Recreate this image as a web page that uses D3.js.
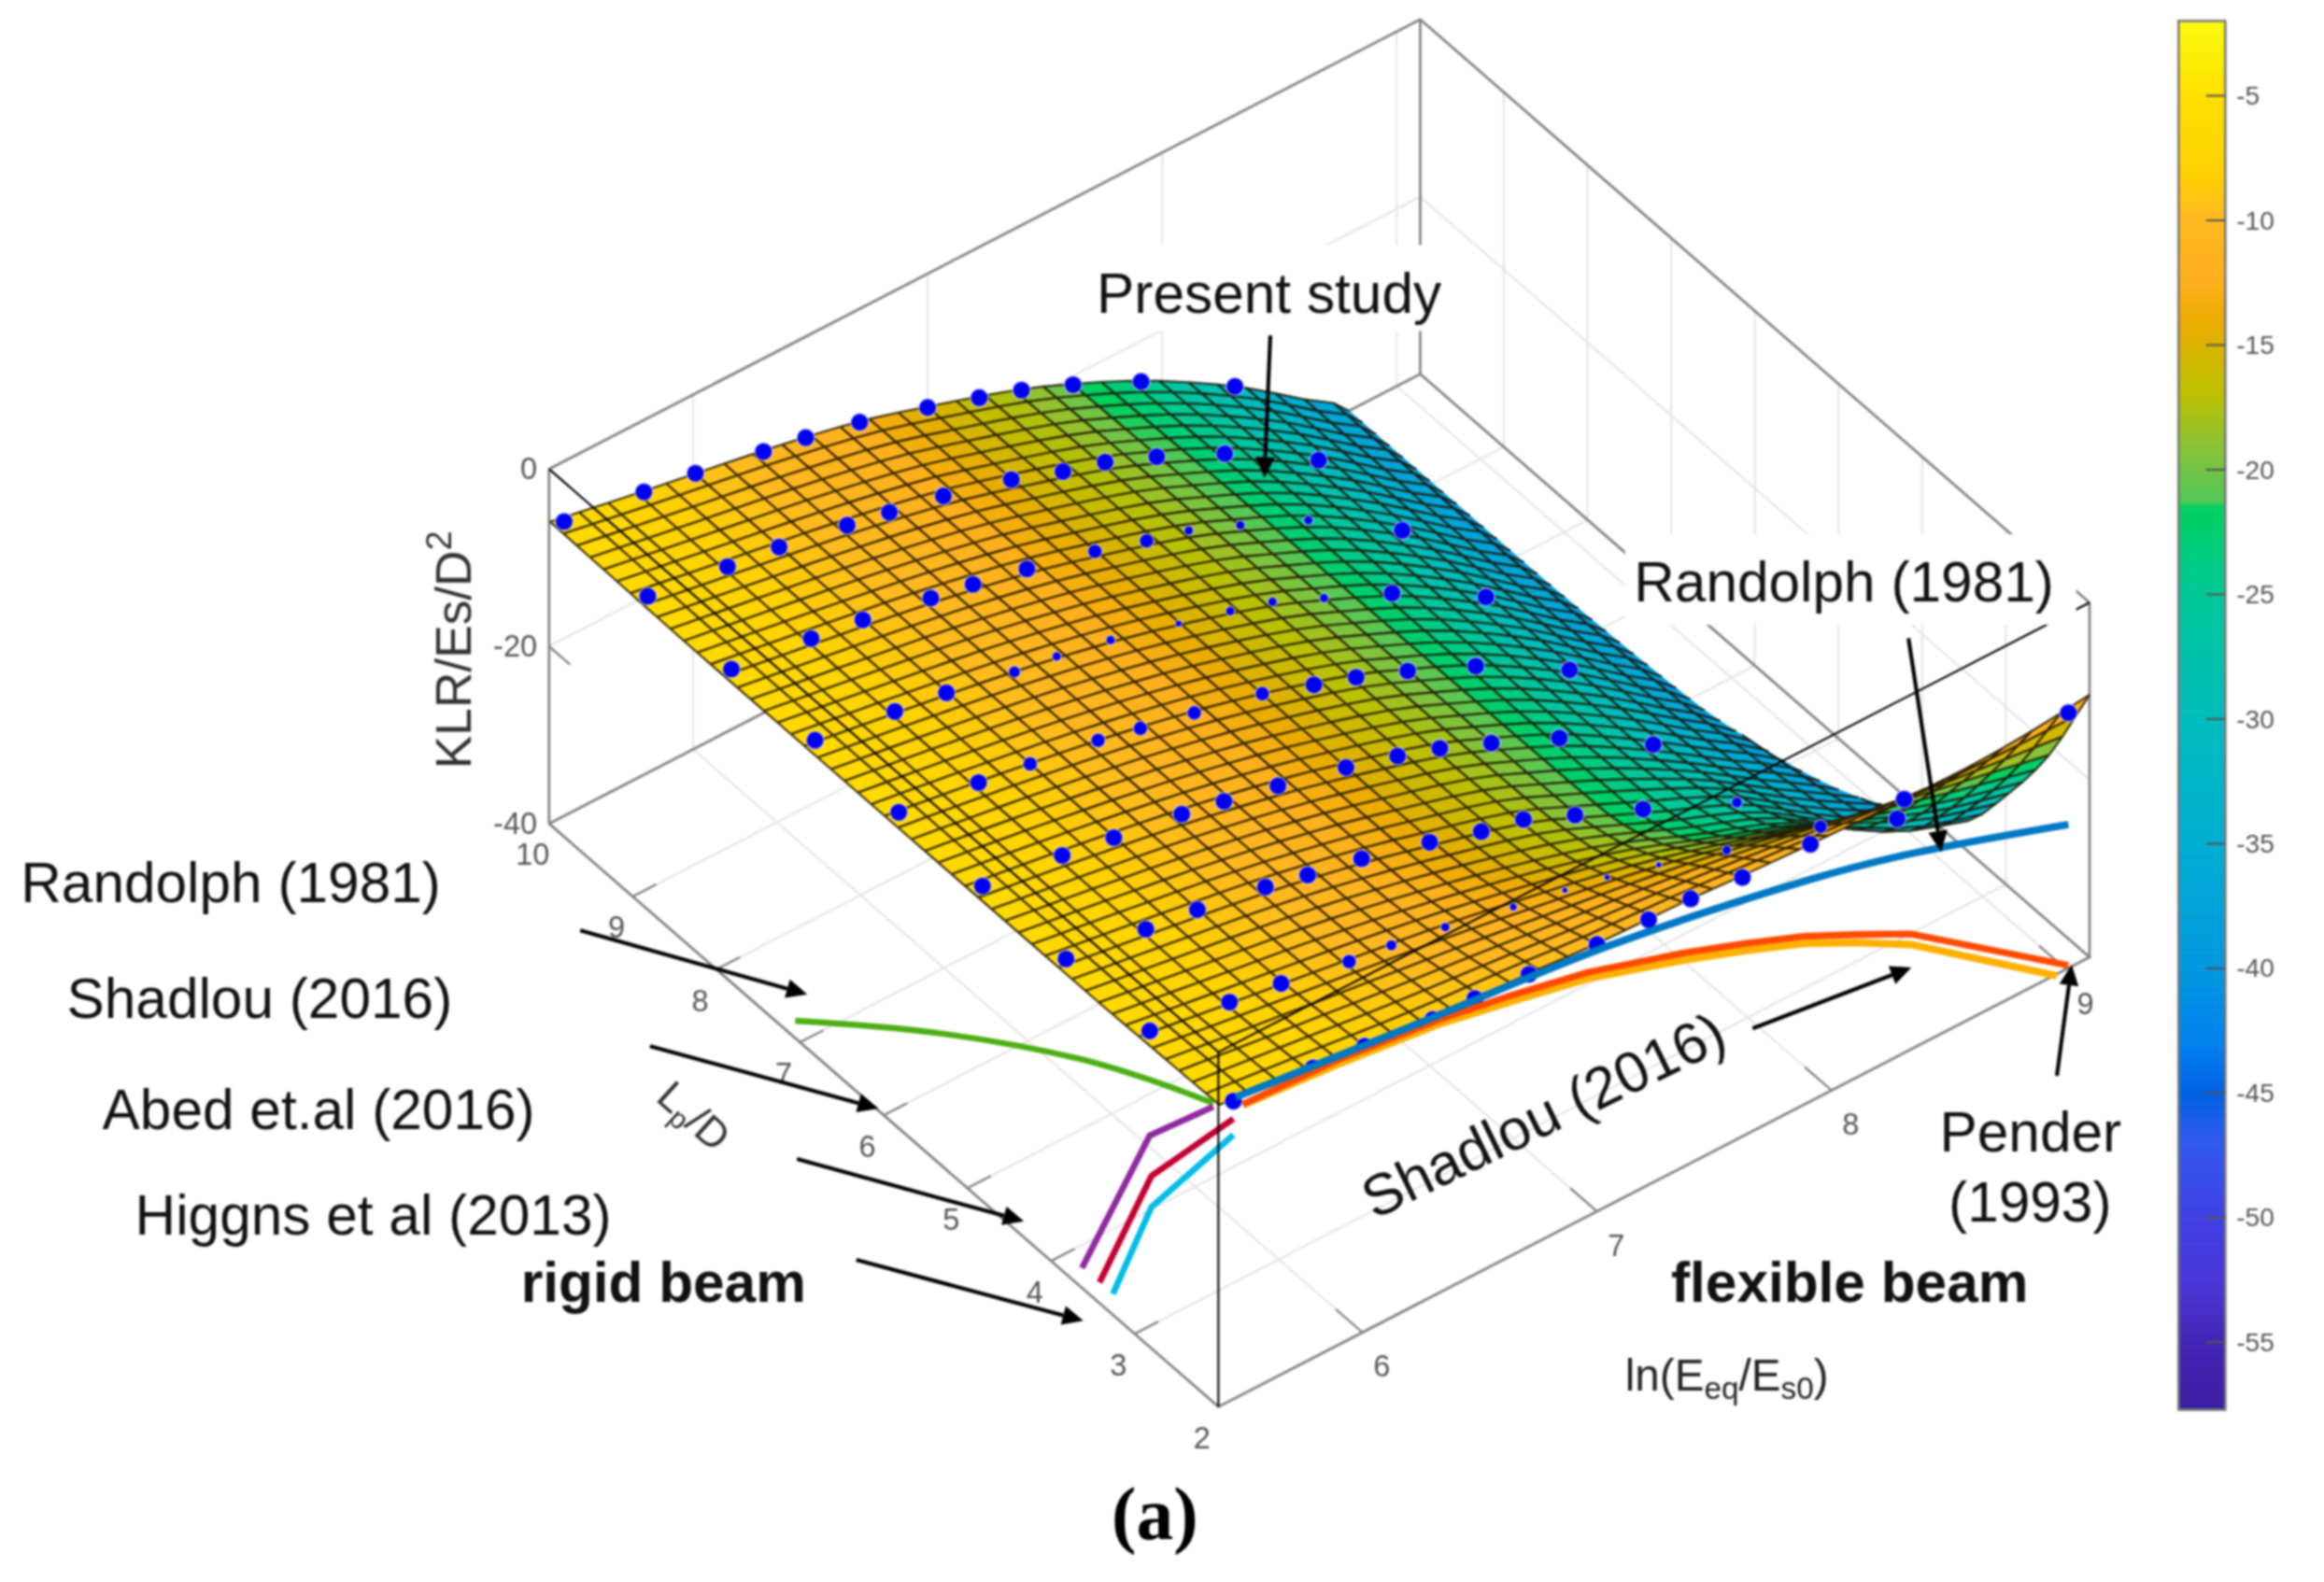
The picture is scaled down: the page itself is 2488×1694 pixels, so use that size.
<!DOCTYPE html>
<html><head><meta charset="utf-8">
<script src="https://cdn.jsdelivr.net/npm/d3@7/dist/d3.min.js"></script>
<style>html,body{margin:0;padding:0;background:#fff;overflow:hidden}svg{display:block;filter:blur(0.8px)}text{font-family:"Liberation Sans",Arial,sans-serif}</style>
</head><body><svg id="c" width="2488" height="1694" viewBox="0 0 1566 1066"></svg>
<script>
// ---- values ----
const xTicks=[6,7,8,9], lpTicks=[2,3,4,5,6,7,8,9,10], zTicks=[0,-20,-40];
const cbarTicks=[-5,-10,-15,-20,-25,-30,-35,-40,-45,-50,-55];
const cmapValues=[-2,-5,-8,-10,-12.5,-14,-15.5,-17,-19,-21.3,-21.5,-25,-30,-35,-40,-43,-45,-47,-50,-53,-55,-58];
const cmapColors=["#f9fb0e","#ffe000","#ffd200","#ffb820","#fdb01c","#ecac00","#d2b600","#bcc000","#8cc236","#50c858","#00d060","#00c898","#00bcbc","#00aed2","#0098e0","#0080ee","#0062e4","#3058ec","#4040e4","#4a34d4","#4224b4","#3c1ca0"];
// surface: read at these x (ln) and Lp/D nodes
const surfX=[5.39,5.79,6.30,6.71,7.00,7.40,7.62,7.91,8.31,8.60,8.82,9.10];
const surfL=[2,2.5,3,3.5,4,5,6,8,10];
const surfZ=[
[-6.0,-7.1,-8.6,-9.2,-9.8,-10.2,-10.6,-11.0,-11.4,-11.5,-11.2,-10.4],
[-6.1,-7.5,-9.2,-10.5,-11.5,-12.8,-13.6,-14.9,-17.0,-18.7,-19.9,-21.5],
[-6.2,-7.8,-9.8,-11.5,-13.0,-15.2,-16.7,-19.0,-22.5,-25.7,-28.0,-30.0],
[-6.3,-7.9,-10.0,-12.2,-14.0,-16.9,-18.9,-22.1,-26.2,-31.0,-34.3,-37.0],
[-6.3,-7.9,-10.1,-12.4,-14.4,-17.4,-19.9,-23.3,-28.0,-33.0,-36.5,-40.0],
[-6.3,-7.9,-10.2,-12.5,-14.5,-17.7,-20.1,-23.6,-29.8,-34.8,-38.5,-45.0],
[-6.3,-7.9,-10.2,-12.5,-14.5,-17.8,-20.2,-23.7,-30.0,-35.5,-39.8,-49.0],
[-6.3,-8.0,-10.3,-12.6,-14.7,-18.0,-20.4,-23.9,-30.4,-36.0,-40.3,-53.0],
[-6.0,-8.0,-10.4,-12.7,-15.0,-18.5,-20.9,-24.5,-30.6,-36.0,-40.3,-58.0]];
// blue points
const dotX=[5.45,5.79,6.01,6.30,6.48,6.71,7.00,7.22,7.40,7.62,7.91,8.31,9.01];
const dotL=[10,9,8,7,6,5,4,3,2];
const dotZ=[
[-6.8,-8.1,-9.0,-10.5,-11.4,-12.8,-15.1,-17.0,-18.6,-21.0,-24.6,-30.6],
[-7.0,-8.3,-9.1,-10.6,-11.6,-12.9,-15.0,-17.1,-18.5,-20.9,-24.5,-30.7],
[-7.0,-8.2,-9.1,-10.6,-11.5,-12.9,-14.9,-16.7,-18.0,-20.4,-23.8,-30.4],
[-6.8,-8.2,-9.1,-10.7,-11.4,-12.7,-14.8,-16.4,-17.8,-20.4,-23.8,-29.7],
[-6.7,-8.0,-8.9,-10.2,-11.3,-12.7,-14.5,-16.5,-18.1,-20.4,-23.8,-29.7],
[-6.8,-8.0,-9.0,-10.3,-11.3,-12.7,-14.6,-16.3,-17.9,-20.3,-23.7,-29.9],
[-6.8,-8.1,-8.9,-10.3,-11.4,-12.7,-14.8,-16.6,-17.7,-20.2,-23.5,-28.2],
[-6.7,-8.1,-9.0,-10.5,-11.1,-12.2,-13.9,-15.0,-16.0,-17.6,-19.9,-22.7],
[-6.4,-7.3,-7.85,-8.8,-8.9,-9.3,-9.9,-10.1,-10.2,-10.8,-11.0,-11.4,-11.2]];
// how far each point sits under the surface (0 = fully visible)
const dotBelow=[
[0,0,0,0,0,0,0,0,0,0,0,0],
[0,0,0,0,0,0,0,0,0,0,0,0],
[0,0,0,0,0,0,.4,.4,1,1,1,0],
[0,0,0,.7,1,1,1.3,1,1,1,0,0],
[0,0,.4,.4,.4,.4,.4,0,0,0,0,0],
[0,0,0,0,0,0,0,0,0,0,0,0],
[0,0,0,0,0,0,0,0,0,0,0,.8],
[0,0,0,.4,.8,1,1.2,1.4,1.4,1.4,1,.5],
[0,0,0,0,0,0,0,0,0,0,0,0,0]];
const extraDotX=[8.28], extraDotL=[2], extraDotZ=[-13.2];
// flexible-beam curves at Lp/D = 2
const randolphX=[5.46,6.20,7.04,7.88,8.31,9.01];
const randolphZ=[-6.1,-8.3,-10.7,-14.8,-17.7,-23.8];
const shadlouX=[5.49,5.886,6.33,6.646,6.96,7.37,7.63,7.88,8.10,8.34,9.01];
const shadlouZ=[-7.3,-7.8,-9.2,-10.7,-12.5,-15.9,-18.4,-21.0,-23.8,-27.0,-39.7];
const penderX=[5.49,5.886,6.33,6.646,6.96,7.37,7.63,7.88,8.10,8.34,8.96];
const penderZ=[-7.4,-8.3,-9.7,-11.4,-13.2,-16.7,-19.2,-21.8,-24.7,-28.2,-40.2];
// rigid-beam curves at low x
const abedL=[7.07,5.37,3.68,2.83,2.07], abedZ=[-38.2,-25.6,-14.6,-10.0,-6.4];
const purpleL=[3.81,3.0,2.24], purpleZ=[-40.1,-18.5,-9.0];
const crimsonL=[3.6,2.98,2.0], crimsonZ=[-40,-22.9,-8.4];
const cyanL=[3.44,2.98,2.0], cyanZ=[-40,-26.4,-10.2];
const rigidX=5.45, greenX=5.39;
const annotations=[
 ["Present study",739,211],["Randolph (1981)",1101,405],["Randolph (1981)",14,608],["Shadlou (2016)",45,686],
 ["Abed et.al (2016)",69,761],["Higgns et al (2013)",91,832],["Pender",1307,776],["(1993)",1313,823]];
const arrows=[[391,627,544,670],[438,705,592,747],[537,781,690,823],[577,849,730,890],
 [856,226,852,322],[1286,430,1308,574],[1181,693,1288,652],[1386,725,1396,650]];

// ---- projection through d3 scales ----
const sX=d3.scaleLinear().domain([5.386,9.10]).range([0,1]);
const sL=d3.scaleLinear().domain([2,10]).range([0,1]);
const sZ=d3.scaleLinear().domain([-40,0]).range([0,239]);
const origin=[821,948], ax=[587,-303], bx=[-451,-393];
function P(x,L,z){const a=sX(x),b=sL(L);return [origin[0]+a*ax[0]+b*bx[0],origin[1]+a*ax[1]+b*bx[1]-sZ(z)];}
const color=d3.scaleLinear().domain(cmapValues).range(cmapColors).clamp(true);
const svg=d3.select("#c");
const xMin=sX.domain()[0],xMax=sX.domain()[1],zMin=-40,zMax=0;
const line3=(g,pts,st,w)=>g.append("path").attr("d",d3.line()(pts)).attr("fill","none").attr("stroke",st).attr("stroke-width",w);

// smooth drawing subdivision between the read nodes (Hermite)
function hermite(xs,ys){
  const n=xs.length,h=[],d=[];for(let i=0;i<n-1;i++){h[i]=xs[i+1]-xs[i];d[i]=(ys[i+1]-ys[i])/h[i];}
  const m=[d[0]];for(let i=1;i<n-1;i++)m[i]=d[i-1]*d[i]<=0?0:2*d[i-1]*d[i]/(d[i-1]+d[i]);m[n-1]=d[n-2];
  return v=>{let i=Math.max(0,Math.min(n-2,d3.bisectRight(xs,v)-1));const t=(v-xs[i])/h[i],t2=t*t,t3=t2*t;
    return (2*t3-3*t2+1)*ys[i]+(t3-2*t2+t)*h[i]*m[i]+(-2*t3+3*t2)*ys[i+1]+(t3-t2)*h[i]*m[i+1];};
}
const colFns=surfX.map((_,j)=>hermite(surfL,surfZ.map(r=>r[j])));
const nX=30,nL=50;
const meshX=d3.range(nX+1).map(i=>surfX[0]+(surfX[surfX.length-1]-surfX[0])*i/nX);
const meshL=d3.range(nL+1).map(j=>2+8*j/nL);
const meshZ=meshL.map(L=>{const row=colFns.map(f=>f(L)),fn=hermite(surfX,row);return meshX.map(x=>fn(x));});

// ---- walls and floor ----
const gridC="#e6e6e6",boxC="#808080";
const grid=svg.append("g");
xTicks.forEach(x=>{line3(grid,[P(x,10,zMin),P(x,10,zMax)],gridC,1.4);line3(grid,[P(x,2,zMin),P(x,10,zMin)],gridC,1.4);});
lpTicks.slice(1,-1).forEach(L=>{line3(grid,[P(xMax,L,zMin),P(xMax,L,zMax)],gridC,1.4);line3(grid,[P(xMin,L,zMin),P(xMax,L,zMin)],gridC,1.4);});
line3(grid,[P(xMin,10,-20),P(xMax,10,-20),P(xMax,2,-20)],gridC,1.4);
const box=svg.append("g");
[[P(xMin,10,zMin),P(xMin,2,zMin),P(xMax,2,zMin),P(xMax,10,zMin),P(xMin,10,zMin)],
 [P(xMin,10,zMax),P(xMax,10,zMax),P(xMax,2,zMax)],
 [P(xMin,10,zMin),P(xMin,10,zMax)],[P(xMax,10,zMin),P(xMax,10,zMax)],[P(xMax,2,zMin),P(xMax,2,zMax)]]
 .forEach(p=>line3(box,p,boxC,1.7));
xTicks.forEach(x=>line3(box,[P(x,2,zMin),P(x,2.32,zMin)],boxC,1.4));
lpTicks.slice(1,-1).forEach(L=>line3(box,[P(xMin,L,zMin),P(xMin+0.1,L,zMin)],boxC,1.4));
zTicks.forEach(z=>line3(box,[P(xMin,10,z),P(xMin,9.75,z)],boxC,1.4));

// ---- surface, painter order: far corner (high x, high Lp) first ----
function clip(poly){const out=[];poly.forEach((p,i)=>{const q=poly[(i+1)%poly.length];
  const a=p[2]>=zMin,b=q[2]>=zMin;if(a)out.push(p);
  if(a!==b){const t=(zMin-p[2])/(q[2]-p[2]);out.push([p[0]+t*(q[0]-p[0]),p[1]+t*(q[1]-p[1]),zMin]);}});return out;}
function clipSeg(p,q){const a=p[2]>=zMin,b=q[2]>=zMin;if(!a&&!b)return null;if(a&&b)return [p,q];
  const t=(zMin-p[2])/(q[2]-p[2]),m=[p[0]+t*(q[0]-p[0]),p[1]+t*(q[1]-p[1]),zMin];return a?[p,m]:[m,q];}
const surf=svg.append("g");
const pr=v=>P(v[0],v[1],v[2]);
for(let j=nL-1;j>=0;j--)for(let i=nX-1;i>=0;i--){
  const c=[[meshX[i],meshL[j],meshZ[j][i]],[meshX[i+1],meshL[j],meshZ[j][i+1]],[meshX[i+1],meshL[j+1],meshZ[j+1][i+1]],[meshX[i],meshL[j+1],meshZ[j+1][i]]];
  const poly=clip(c);if(poly.length<3)continue;
  const zc=(c[0][2]+c[1][2]+c[2][2]+c[3][2])/4,col=color(zc);
  surf.append("path").attr("d",d3.line()(poly.map(pr))+"Z").attr("fill",col).attr("stroke",col).attr("stroke-width",0.4);
  let d="";for(let e=0;e<4;e++){const s=clipSeg(c[e],c[(e+1)%4]);if(s)d+=d3.line()(s.map(pr));}
  surf.append("path").attr("d",d).attr("fill","none").attr("stroke","#1c1400").attr("stroke-width",1.35).attr("stroke-opacity",0.85);
}
// ---- blue points ----
const dots=[];dotL.forEach((L,r)=>dotZ[r].forEach((z,k)=>dots.push({x:dotX[k],L,z,b:dotBelow[r][k]})));
extraDotX.forEach((x,i)=>dots.push({x,L:extraDotL[i],z:extraDotZ[i],b:0}));
const rad=d3.scaleLinear().domain([0,1.5]).range([6,1.8]).clamp(true);
svg.append("g").selectAll("circle").data(dots).join("circle")
 .attr("cx",d=>P(d.x,d.L,d.z)[0]).attr("cy",d=>P(d.x,d.L,d.z)[1])
 .attr("r",d=>rad(d.b)).attr("fill","#0000f0").attr("stroke","#fff").attr("stroke-opacity",.55).attr("stroke-width",.9);

// ---- curves ----
const cg=svg.append("g").attr("fill","none");
const curve=d3.line().curve(d3.curveCatmullRom.alpha(.5));
const flex=(xs,zs)=>xs.map((x,i)=>P(x,2,zs[i]));
const rigid=(ls,zs,x)=>ls.map((L,i)=>P(x,L,zs[i]));
cg.append("path").attr("d",d3.line()(flex(penderX,penderZ))).attr("stroke","#ffb000").attr("stroke-width",5);
cg.append("path").attr("d",d3.line()(flex(shadlouX,shadlouZ))).attr("stroke","#ff4a00").attr("stroke-width",4.6);
cg.append("path").attr("d",curve(flex(randolphX,randolphZ))).attr("stroke","#0078c4").attr("stroke-width",5);
cg.append("path").attr("d",curve(rigid(abedL,abedZ,greenX))).attr("stroke","#4cae12").attr("stroke-width",4);
cg.append("path").attr("d",d3.line()(rigid(purpleL,purpleZ,rigidX))).attr("stroke","#8e2a9e").attr("stroke-width",4.2);
cg.append("path").attr("d",d3.line()(rigid(crimsonL,crimsonZ,rigidX))).attr("stroke","#c40032").attr("stroke-width",4.2);
cg.append("path").attr("d",d3.line()(rigid(cyanL,cyanZ,rigidX))).attr("stroke","#00bce8").attr("stroke-width",4.2);

// ---- front frame lines ----
const fr=svg.append("g");
[[P(xMin,10,zMax),P(xMin,2,zMax),P(xMax,2,zMax)],[P(xMin,2,zMin),P(xMin,2,zMax)]].forEach(p=>line3(fr,p,"#000",1.3));

// ---- white label patches as in the picture ----
svg.append("rect").attr("x",730).attr("y",165).attr("width",250).attr("height",58).attr("fill","#fff");
svg.append("rect").attr("x",1095).attr("y",360).attr("width",304).attr("height",61).attr("fill","#fff");

// ---- tick labels ----
const tick=svg.append("g").attr("fill","#555").attr("font-size",20.5).attr("text-anchor","middle");
xTicks.forEach(x=>{const p=P(x,2,zMin);tick.append("text").attr("x",p[0]+13).attr("y",p[1]+30).text(x);});
lpTicks.forEach(L=>{const p=P(xMin,L,zMin);tick.append("text").attr("x",p[0]-11).attr("y",p[1]+28).text(L);});
zTicks.forEach(z=>{const p=P(xMin,10,z);tick.append("text").attr("x",p[0]-8).attr("y",p[1]+7).attr("text-anchor","end").text(z);});

// ---- annotation ----
const tx=svg.append("g").attr("fill","#111").attr("font-size",38);
annotations.forEach(a=>tx.append("text").attr("x",a[1]).attr("y",a[2]).text(a[0]));
tx.append("text").attr("x",351).attr("y",877).attr("font-weight","bold").text("rigid beam");
tx.append("text").attr("x",1126).attr("y",877).attr("font-weight","bold").text("flexible beam");
tx.append("text").attr("transform","translate(926,822) rotate(-26)").attr("font-size",39).text("Shadlou (2016)");
svg.append("text").attr("x",749).attr("y",1037).attr("font-size",50).attr("font-weight","bold").style("font-family","'Liberation Serif',serif").text("(a)");
const xl=svg.append("text").attr("x",1095).attr("y",937).attr("font-size",30).attr("fill","#222");
xl.append("tspan").text("ln(E");xl.append("tspan").attr("dy",6).attr("font-size",21).text("eq");xl.append("tspan").attr("dy",-6).text("/E");xl.append("tspan").attr("dy",6).attr("font-size",21).text("s0");xl.append("tspan").attr("dy",-6).text(")");
const zl=svg.append("text").attr("transform","translate(317,518) rotate(-90)").attr("font-size",33.5).attr("fill","#333");
zl.append("tspan").text("KLR/Es/D");zl.append("tspan").attr("dy",-13).attr("font-size",24).text("2");
const ll=svg.append("text").attr("transform","translate(441,741) rotate(42)").attr("font-size",28).attr("fill","#333");
ll.append("tspan").text("L");ll.append("tspan").attr("dy",5).attr("font-size",19).text("p");ll.append("tspan").attr("dy",-5).text("/D");

// arrows
const ag=svg.append("g");
arrows.forEach(([a,b,c,d])=>{const t=Math.atan2(d-b,c-a),L=14,W=6.5,bx2=c-L*Math.cos(t),by2=d-L*Math.sin(t);
 ag.append("line").attr("x1",a).attr("y1",b).attr("x2",bx2).attr("y2",by2).attr("stroke","#000").attr("stroke-width",2.6);
 ag.append("path").attr("d",d3.line()([[c,d],[bx2-W*Math.sin(t),by2+W*Math.cos(t)],[bx2+W*Math.sin(t),by2-W*Math.cos(t)]])+"Z").attr("fill","#000");});

// ---- colour bar ----
const cb=d3.scaleLinear().domain([-2,-57.7]).range([14,950]);
const bar=svg.append("g");
d3.range(14,950,1).forEach(y=>bar.append("rect").attr("x",1468).attr("y",y).attr("width",31.5).attr("height",1.4).attr("fill",color(cb.invert(y+.5))));
bar.append("rect").attr("x",1468).attr("y",14).attr("width",31.5).attr("height",936).attr("fill","none").attr("stroke","#777").attr("stroke-width",1.6);
cbarTicks.forEach(v=>{bar.append("line").attr("x1",1486.5).attr("x2",1499.5).attr("y1",cb(v)).attr("y2",cb(v)).attr("stroke","#555").attr("stroke-width",1.3);
 bar.append("text").attr("x",1507).attr("y",cb(v)+6).attr("font-size",17.7).attr("fill","#555").text(v);});
</script></body></html>
